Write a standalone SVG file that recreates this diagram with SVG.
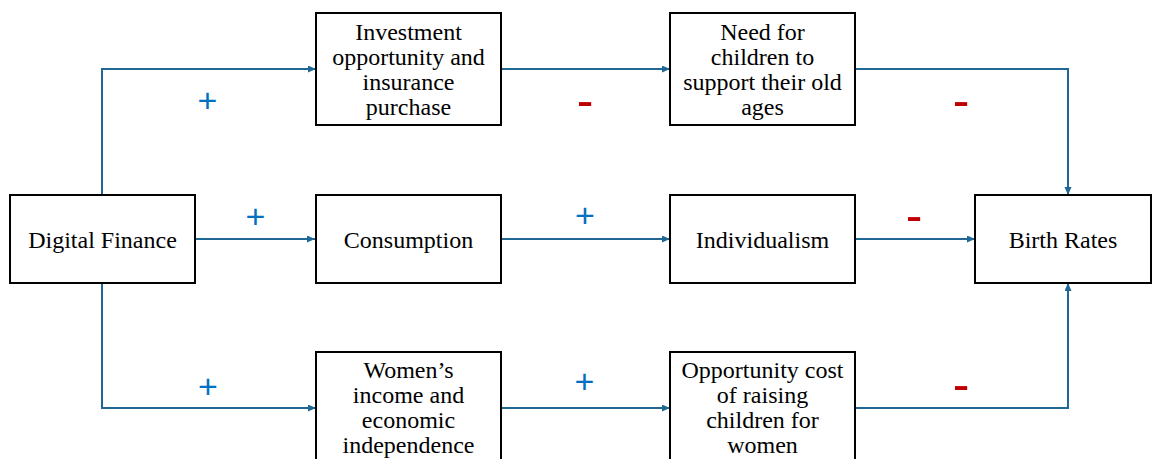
<svg xmlns="http://www.w3.org/2000/svg" width="1153" height="459" viewBox="0 0 1153 459">
<defs>
<marker id="arr" markerUnits="userSpaceOnUse" markerWidth="9" markerHeight="8" refX="8" refY="3.5" orient="auto">
<path d="M0,0 L8,3.5 L0,7 z" fill="#1f6896"/>
</marker>
</defs>
<rect width="1153" height="459" fill="#fff"/>
<g id="connectors" fill="none" stroke="#1f6896" stroke-width="2" marker-end="url(#arr)">
<path d="M102,195 V69 H316"/>
<path d="M501,69 H670"/>
<path d="M855,69 H1068 V195"/>
<path d="M195,239 H315"/>
<path d="M501,239 H670"/>
<path d="M855,239 H975"/>
<path d="M102,283 V408 H316"/>
<path d="M501,408 H670"/>
<path d="M855,408 H1068 V283"/>
</g>
<g id="signs" text-anchor="middle">
<g fill="#0070c0" font-size="34">
<text font-family="Liberation Sans" x="207.5" y="112">+</text>
<text font-family="Liberation Sans" x="255.5" y="228">+</text>
<text font-family="Liberation Sans" x="585" y="227">+</text>
<text font-family="Liberation Sans" x="208" y="398">+</text>
<text font-family="Liberation Sans" x="584.5" y="393">+</text>
</g>
<g fill="#c00000" font-size="50">
<text font-family="Liberation Sans" x="585" y="116.5">-</text>
<text font-family="Liberation Sans" x="961" y="116.5">-</text>
<text font-family="Liberation Sans" x="914" y="231.5">-</text>
<text font-family="Liberation Sans" x="961" y="401">-</text>
</g>
</g>
<g id="nodes" font-size="24" text-anchor="middle">
<g id="digital-finance">
<rect x="10" y="195" width="185" height="88" fill="#fff" stroke="#000" stroke-width="2"/>
<text font-family="Liberation Serif" x="102.5" y="247.5">Digital Finance</text>
</g>
<g id="investment">
<rect x="316" y="13" width="185" height="112" fill="#fff" stroke="#000" stroke-width="2"/>
<text font-family="Liberation Serif" x="408.5" y="40">Investment</text>
<text font-family="Liberation Serif" x="408.5" y="65">opportunity and</text>
<text font-family="Liberation Serif" x="408.5" y="90">insurance</text>
<text font-family="Liberation Serif" x="408.5" y="115">purchase</text>
</g>
<g id="consumption">
<rect x="316" y="195" width="185" height="88" fill="#fff" stroke="#000" stroke-width="2"/>
<text font-family="Liberation Serif" x="408.5" y="247.5">Consumption</text>
</g>
<g id="womens-income">
<rect x="316" y="352" width="185" height="112" fill="#fff" stroke="#000" stroke-width="2"/>
<text font-family="Liberation Serif" x="408.5" y="378">Women’s</text>
<text font-family="Liberation Serif" x="408.5" y="403">income and</text>
<text font-family="Liberation Serif" x="408.5" y="428">economic</text>
<text font-family="Liberation Serif" x="408.5" y="453">independence</text>
</g>
<g id="need-children">
<rect x="670" y="13" width="185" height="112" fill="#fff" stroke="#000" stroke-width="2"/>
<text font-family="Liberation Serif" x="762.5" y="40">Need for</text>
<text font-family="Liberation Serif" x="762.5" y="65">children to</text>
<text font-family="Liberation Serif" x="762.5" y="90">support their old</text>
<text font-family="Liberation Serif" x="762.5" y="115">ages</text>
</g>
<g id="individualism">
<rect x="670" y="195" width="185" height="88" fill="#fff" stroke="#000" stroke-width="2"/>
<text font-family="Liberation Serif" x="762.5" y="247.5">Individualism</text>
</g>
<g id="opportunity-cost">
<rect x="670" y="352" width="185" height="112" fill="#fff" stroke="#000" stroke-width="2"/>
<text font-family="Liberation Serif" x="762.5" y="378">Opportunity cost</text>
<text font-family="Liberation Serif" x="762.5" y="403">of raising</text>
<text font-family="Liberation Serif" x="762.5" y="428">children for</text>
<text font-family="Liberation Serif" x="762.5" y="453">women</text>
</g>
<g id="birth-rates">
<rect x="975" y="195" width="176" height="88" fill="#fff" stroke="#000" stroke-width="2"/>
<text font-family="Liberation Serif" x="1063" y="247.5">Birth Rates</text>
</g>
</g>
</svg>
